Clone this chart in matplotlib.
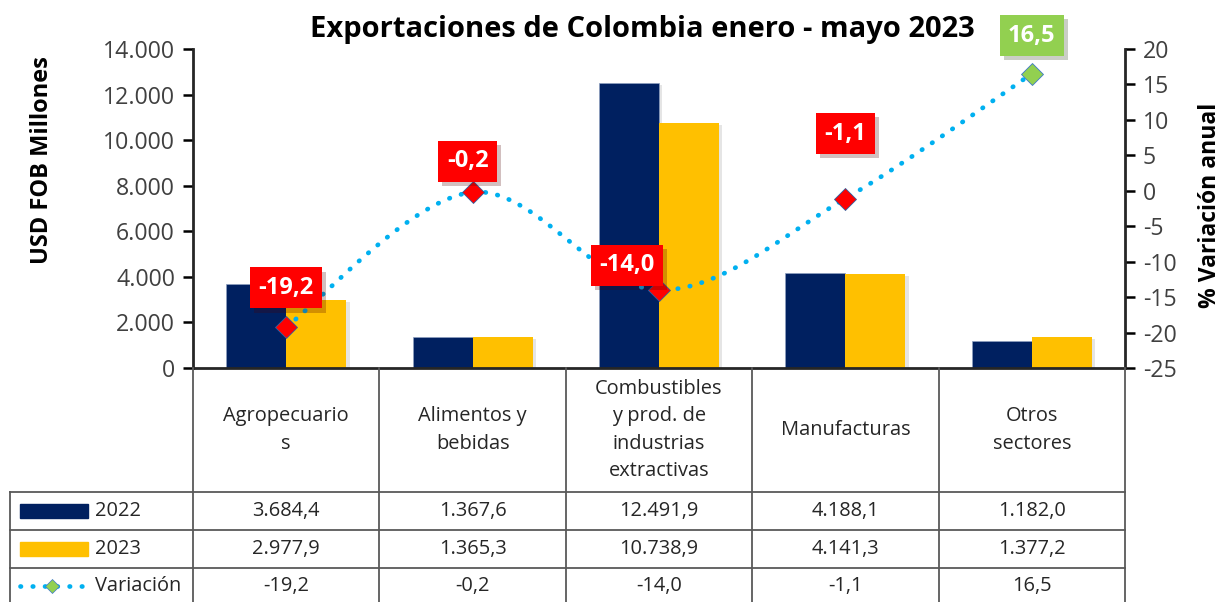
import numpy as np
import matplotlib
matplotlib.use("Agg")
import matplotlib.pyplot as plt
from matplotlib import patheffects as pe
from matplotlib.transforms import blended_transform_factory
from matplotlib.lines import Line2D
from matplotlib.patches import Rectangle

plt.rcParams['font.family'] = ['Open Sans', 'DejaVu Sans']

categories = ["Agropecuario\ns", "Alimentos y\nbebidas", "Combustibles\ny prod. de\nindustrias\nextractivas",
              "Manufacturas", "Otros\nsectores"]
v2022 = [3684.4, 1367.6, 12491.9, 4188.1, 1182.0]
v2023 = [2977.9, 1365.3, 10738.9, 4141.3, 1377.2]
variacion = [-19.2, -0.2, -14.0, -1.1, 16.5]
t2022 = ["3.684,4", "1.367,6", "12.491,9", "4.188,1", "1.182,0"]
t2023 = ["2.977,9", "1.365,3", "10.738,9", "4.141,3", "1.377,2"]
tvar = ["-19,2", "-0,2", "-14,0", "-1,1", "16,5"]
label_offsets = [(0, 39), (-5, 31), (-32, 25), (0, 65), (0, 38)]  # pixels

W, H = 1224, 602
fig = plt.figure(figsize=(W/100, H/100), dpi=100)
L, R, T, B = 193, 1125, 49, 368
ax = fig.add_axes([L/W, 1-B/H, (R-L)/W, (B-T)/H])
ax2 = ax.twinx()

C22, C23 = "#002060", "#FFC000"
LINEC = "#00B0F0"
x = np.arange(len(categories))
bw = 0.322
shadow = [pe.SimplePatchShadow(offset=(2.5, -1.5), shadow_rgbFace='#aaaaaa', alpha=0.3), pe.Normal()]
b1 = ax.bar(x - bw/2, v2022, bw, color=C22, edgecolor='#8EA0C0', linewidth=0.5)
b2 = ax.bar(x + bw/2, v2023, bw, color=C23)
for b in list(b1) + list(b2):
    b.set_path_effects(shadow)

ax.set_xlim(-0.5, len(categories) - 0.5)
ax.set_ylim(0, 14000)
ax.set_yticks(np.arange(0, 14001, 2000))
ax.set_yticklabels([f"{int(v):,}".replace(",", ".") for v in np.arange(0, 14001, 2000)])
ax.set_xticks([])
ax2.set_ylim(-25, 20)
ax2.set_yticks(np.arange(-25, 21, 5))
ax2.set_yticklabels([str(v) for v in np.arange(-25, 21, 5)])

for a in (ax, ax2):
    a.spines['top'].set_visible(False)
    a.tick_params(axis='y', labelsize=16.7, length=7, width=1.8, pad=6, colors='black', labelcolor='#404040')
for s in ('left', 'right', 'bottom'):
    ax2.spines[s].set_linewidth(2)
    ax2.spines[s].set_color('#262626')
ax.spines['left'].set_visible(False); ax.spines['right'].set_visible(False); ax.spines['bottom'].set_visible(False)

# smoothed line (Catmull-Rom in pixel space)
sx = (R - L) / 5.0
sy = (B - T) / 45.0
px = (x + 0.5) * sx
py = (np.array(variacion) + 25) * sy
P = np.column_stack([px, py])
pts = []
n = len(P)
for i in range(n - 1):
    p0 = P[max(i - 1, 0)]; p1 = P[i]; p2 = P[i + 1]; p3 = P[min(i + 2, n - 1)]
    c1 = p1 + (p2 - p0) / 6.0
    c2 = p2 - (p3 - p1) / 6.0
    t = np.linspace(0, 1, 60)[:, None]
    seg = (1-t)**3*p1 + 3*(1-t)**2*t*c1 + 3*(1-t)*t**2*c2 + t**3*p2
    pts.append(seg if i == 0 else seg[1:])
curve = np.vstack(pts)
cx = curve[:, 0] / sx - 0.5
cy = curve[:, 1] / sy - 25
ax2.plot(cx, cy, color=LINEC, linewidth=3.4, linestyle=(0, (0.1, 2.5)), dash_capstyle='round', zorder=3)
for xi, vi, lab, off in zip(x, variacion, tvar, label_offsets):
    col = "#92D050" if vi > 0 else "#FF0000"
    ax2.plot([xi], [vi], marker='D', markersize=11.5, color=col, markeredgecolor='#3060A0' if vi < 0 else '#3C78C8',
             markeredgewidth=0.6, zorder=4)
    ax2.annotate(lab, (xi, vi), xytext=off, textcoords='offset pixels', ha='center', va='center',
                 fontsize=17, fontweight='bold', color='white', zorder=6,
                 bbox=dict(boxstyle='square,pad=0.36', fc=col, ec='none',
                           path_effects=[pe.SimplePatchShadow(offset=(3, -3), alpha=0.25), pe.Normal()]))

# Titles
fig.text(642/W, 1-29/H, "Exportaciones de Colombia enero - mayo 2023", ha='center', va='center',
         fontsize=21, fontweight='bold', color='black')
fig.text(42/W, 1-160/H, "USD FOB Millones", rotation=90, ha='center', va='center',
         fontsize=17, fontweight='bold', color='black')
fig.text(1210/W, 1-205/H, "% Variación anual", rotation=90, ha='center', va='center',
         fontsize=16.5, fontweight='bold', color='black')

# Data table
tr = blended_transform_factory(ax.transData, fig.transFigure)
fy = lambda p: 1 - p / H
gc = '#595959'
for xb in np.arange(-0.5, len(categories), 1.0):
    fig.add_artist(Line2D([xb, xb], [fy(B), fy(H + 5)], transform=tr, color=gc, lw=1.3))
fig.add_artist(Line2D([10/W, 10/W], [fy(492), fy(H + 5)], color=gc, lw=1.3))
for yr in (492, 530, 568):
    fig.add_artist(Line2D([10/W, R/W], [fy(yr), fy(yr)], color=gc, lw=1.3))

tc = '#262626'
for xi, cat in zip(x, categories):
    fig.text(xi, fy(430), cat, transform=tr, ha='center', va='center', fontsize=14.4, color=tc, linespacing=1.5)
for row_y, vals in ((511, t2022), (549, t2023), (586, tvar)):
    for xi, v in zip(x, vals):
        fig.text(xi, fy(row_y), v, transform=tr, ha='center', va='center', fontsize=14.4, color=tc)

# legend keys
fig.add_artist(Rectangle((20/W, fy(518)), 68/W, 14/H, color=C22))
fig.add_artist(Rectangle((20/W, fy(556)), 68/W, 14/H, color=C23))
fig.text(95/W, fy(511), "2022", ha='left', va='center', fontsize=14.4, color=tc)
fig.text(95/W, fy(549), "2023", ha='left', va='center', fontsize=14.4, color=tc)
fig.add_artist(Line2D([20/W, 88/W], [fy(586), fy(586)], color=LINEC, lw=3.4,
                      linestyle=(0, (0.1, 2.5)), dash_capstyle='round'))
fig.add_artist(Line2D([52/W], [fy(586)], marker='D', markersize=7, color='#92D050', markeredgecolor='#3C78C8',
                      markeredgewidth=0.5))
fig.text(95/W, fy(586), "Variación", ha='left', va='center', fontsize=14.4, color=tc)

fig.savefig("out.png", dpi=100)
